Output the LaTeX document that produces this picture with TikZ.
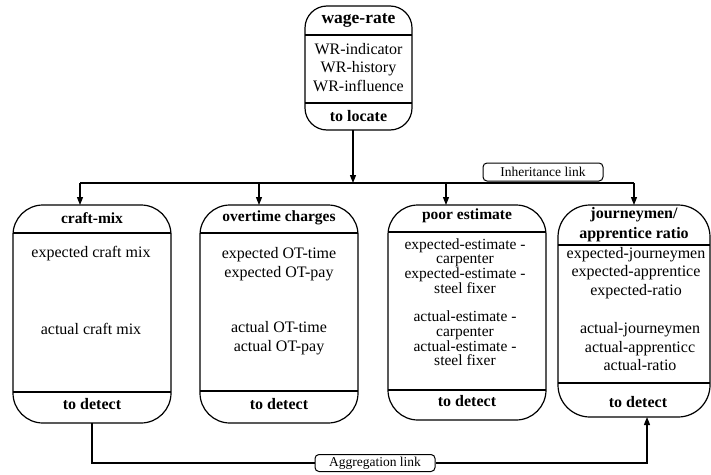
\documentclass[tikz,border=0pt]{standalone}
\usepackage{fontspec}
\setmainfont{Liberation Serif}
\usetikzlibrary{arrows.meta,calc}

\tikzset{
  region/.style={draw=none, rectangle, inner sep=0pt, outer sep=0pt},
  frame/.style={draw=black, line width=1.2pt, rounded corners=#1},
  divider/.style={draw=black, line width=1.4pt},
  title/.style={font=\fontsize{15.5}{19}\selectfont\bfseries, align=center, inner sep=0pt},
  foot/.style={font=\fontsize{16}{19}\selectfont\bfseries, align=center, inner sep=0pt},
  bigtitle/.style={font=\fontsize{17.5}{20}\selectfont\bfseries, align=center, inner sep=0pt},
  body/.style={font=\fontsize{16}{18.5}\selectfont, align=center, inner sep=0pt},
  line/.style={font=\fontsize{15.5}{17}\selectfont, inner sep=0pt, text height=9.5pt, text depth=2.5pt},
  linklabel/.style={draw=black, line width=1pt, rounded corners=4pt, inner sep=0pt,
    font=\fontsize{13.5}{15}\selectfont, fill=white},
  conn/.style={draw=black, line width=1.2pt},
  tip/.style={-{Triangle[length=8pt,width=6pt]}},
}

\begin{document}
\begin{tikzpicture}[x=1pt, y=-1pt]
\useasboundingbox (0,0) rectangle (711,474);

% ---- frame regions ----
\node[region, minimum width=107pt, minimum height=124pt] (wr) at (358.5,68) {};
\node[region, minimum width=158pt, minimum height=218pt] (cm) at (92,314) {};
\node[region, minimum width=158pt, minimum height=218pt] (ot) at (279,314) {};
\node[region, minimum width=158pt, minimum height=215pt] (pe) at (467,312.5) {};
\node[region, minimum width=152pt, minimum height=212pt] (jr) at (634,311) {};

% ---- outlines ----
\draw[frame=22pt] (wr.north west) rectangle (wr.south east);
\draw[frame=30pt] (cm.north west) rectangle (cm.south east);
\draw[frame=30pt] (ot.north west) rectangle (ot.south east);
\draw[frame=30pt] (pe.north west) rectangle (pe.south east);
\draw[frame=32pt] (jr.north west) rectangle (jr.south east);

% ---- dividers ----
\draw[divider] (wr.west |- 0,35) -- (wr.east |- 0,35);
\draw[divider] (wr.west |- 0,103) -- (wr.east |- 0,103);
\draw[divider] (cm.west |- 0,233) -- (cm.east |- 0,233);
\draw[divider] (cm.west |- 0,392) -- (cm.east |- 0,392);
\draw[divider] (ot.west |- 0,233) -- (ot.east |- 0,233);
\draw[divider] (ot.west |- 0,391) -- (ot.east |- 0,391);
\draw[divider] (pe.west |- 0,232) -- (pe.east |- 0,232);
\draw[divider] (pe.west |- 0,390) -- (pe.east |- 0,390);
\draw[divider] (jr.west |- 0,245) -- (jr.east |- 0,245);
\draw[divider] (jr.west |- 0,383) -- (jr.east |- 0,383);

% ---- wage-rate ----
\node[bigtitle] (wrT) at (358.5,21) {wage-rate};
\node[body] (wrB) at (358.5,67.5) {WR-indicator\\WR-history\\WR-influence};
\node[foot] (wrF) at (358.5,116) {to locate};

% ---- craft-mix ----
\node[title] (cmT) at (92,218) {craft-mix};
\node[body] (cmE) at (91,254) {expected craft mix};
\node[body] (cmA) at (91,329) {actual craft mix};
\node[foot] (cmF) at (92,404) {to detect};

% ---- overtime charges ----
\node[title] (otT) at (279,218) {overtime charges};
\node[body] (otE) at (279,264) {expected OT-time\\expected OT-pay};
\node[body] (otA) at (279,338) {actual OT-time\\actual OT-pay};
\node[foot] (otF) at (279,404) {to detect};

% ---- poor estimate (closely set line pairs) ----
\node[title] (peT) at (467,216) {poor estimate};
\node[line] (peE1a) at (465,245.5) {expected-estimate -};
\node[line] (peE1b) at (465,260)   {carpenter};
\node[line] (peE2a) at (465,275)   {expected-estimate -};
\node[line] (peE2b) at (465,289.5) {steel fixer};
\node[line] (peA1a) at (465,318)   {actual-estimate -};
\node[line] (peA1b) at (465,332.5) {carpenter};
\node[line] (peA2a) at (465,347.5) {actual-estimate -};
\node[line] (peA2b) at (465,362)   {steel fixer};
\node[foot] (peF) at (467,401) {to detect};

% ---- journeymen / apprentice ratio ----
\node[title, font=\fontsize{16}{20}\selectfont\bfseries] (jrT) at (634,225) {journeymen/\\apprentice ratio};
\node[body] (jrE) at (636,273) {expected-journeymen\\expected-apprentice\\expected-ratio};
\node[body] (jrA) at (640,347) {actual-journeymen\\actual-apprenticc\\actual-ratio};
\node[foot] (jrF) at (638,402) {to detect};

% ---- inheritance link ----
\coordinate (wrOut) at (353,130);
\coordinate (busL) at (80,183);
\coordinate (busOT) at (259,183);
\coordinate (busPE) at (446,183);
\coordinate (busR) at (634,183);
\draw[conn, tip] (wrOut) -- (wrOut |- busL);
\draw[conn] (busL) -- (busR);
\draw[conn, tip] (busL) -- (busL |- cm.north);
\draw[conn, tip] (busOT) -- (busOT |- ot.north);
\draw[conn, tip] (busPE) -- (busPE |- pe.north);
\draw[conn, tip] (busR) -- (jr.north);
\node[linklabel, minimum width=120pt, minimum height=18pt] (inh) at (543,172) {Inheritance link};

% ---- aggregation link ----
\node[linklabel, minimum width=120pt, minimum height=17pt] (agg) at (375,463) {Aggregation link};
\coordinate (aggL) at (92,463);
\coordinate (aggR) at (647,463);
\draw[conn] (cm.south) -- (aggL) -- (agg.west);
\draw[conn, tip] (agg.east) -- (aggR) -- (aggR |- jr.south);

\end{tikzpicture}
\end{document}
